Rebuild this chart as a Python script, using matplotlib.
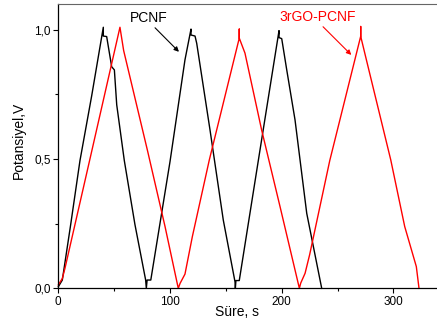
import matplotlib
matplotlib.use("Agg")
import matplotlib.pyplot as plt
from matplotlib.ticker import FixedLocator

plt.rcParams['font.family'] = ['Liberation Sans', 'DejaVu Sans']

# PCNF (black) - time [s], potential [V]
pcnf_t = [0, 3.6, 11.1, 19.4, 29.9, 40.3, 40.3, 43.3, 47.8, 50.2, 52.3, 59.1, 68.6,
          78.2, 78.8, 79.5, 82.8, 100, 113.4, 118.8, 118.8, 122.4, 123.9, 135.8,
          147.7, 158.2, 158.5, 159, 162, 180, 197.6, 197.6, 200, 204.5, 211.9,
          222.4, 235.8]
pcnf_v = [0.006, 0.032, 0.247, 0.494, 0.745, 1.01, 0.976, 0.974, 0.857, 0.845, 0.71,
          0.494, 0.247, 0.032, 0.0, 0.032, 0.032, 0.49, 0.884, 1.003, 0.98, 0.976,
          0.948, 0.613, 0.264, 0.025, 0.0, 0.03, 0.03, 0.52, 0.997, 0.97, 0.966,
          0.845, 0.652, 0.29, 0.0]

# 3rGO-PCNF (red)
rgo_t = [0, 3.6, 6, 28, 55.2, 58.5, 80, 95.5, 107.4, 109, 113.4, 120, 135.2,
         162, 162, 162, 167.1, 182, 198.5, 215.8, 217, 220.9, 225, 243,
         270.7, 270.7, 270.7, 275.8, 297.6, 310.1, 320.5, 322.9]
rgo_v = [0.013, 0.038, 0.078, 0.494, 1.01, 0.92, 0.53, 0.24, 0.0, 0.019, 0.055,
         0.2, 0.497, 0.968, 1.003, 0.968, 0.91, 0.613, 0.316, 0.0, 0.02,
         0.058, 0.13, 0.494, 0.975, 1.013, 0.975, 0.884, 0.497, 0.239, 0.084, 0.0]

x_ticks = [0, 100, 200, 300]
y_ticks = [0.0, 0.5, 1.0]
y_tick_labels = ['0,0', '0,5', '1,0']

fig = plt.figure(figsize=(4.37, 3.25), dpi=100)
ax = fig.add_axes([0.1334, 0.1129, 0.8947, 0.8748])

ax.plot(pcnf_t, pcnf_v, color='black', lw=1.0, clip_on=False)
ax.plot(rgo_t, rgo_v, color='#ff0000', lw=1.0, clip_on=False)

ax.set_xlim(0, 350)
ax.set_ylim(0, 1.1)

ax.set_xticks(x_ticks)
ax.set_yticks(y_ticks)
ax.set_yticklabels(y_tick_labels)
ax.xaxis.set_minor_locator(FixedLocator([50, 150, 250, 350]))
ax.yaxis.set_minor_locator(FixedLocator([0.25, 0.75]))
ax.tick_params(which='major', direction='out', length=3.5, width=0.8,
               labelsize=8.5, pad=2, top=False, right=False)
ax.tick_params(which='minor', direction='out', length=2, width=0.8,
               top=False, right=False)

ax.spines['top'].set_color('0.4')
ax.spines['right'].set_visible(False)
for s in ['left', 'bottom']:
    ax.spines[s].set_linewidth(0.9)

ax.set_xlabel('Süre, s', fontsize=10)
ax.set_ylabel('Potansiyel,V', fontsize=10)
ax.xaxis.set_label_coords(0.457, -0.058)
ax.yaxis.set_label_coords(-0.083, 0.52)

# annotations
ax.text(81.2, 1.046, 'PCNF', fontsize=10, color='black', ha='center', va='center')
ax.annotate('', xy=(108, 0.915), xytext=(86.6, 1.008),
            arrowprops=dict(arrowstyle='-|>', color='black', lw=0.8,
                            mutation_scale=7, shrinkA=0, shrinkB=0))
ax.text(232.5, 1.05, '3rGO-PCNF', fontsize=10, color='#ff0000', ha='center', va='center')
ax.annotate('', xy=(262.3, 0.903), xytext=(237, 1.012),
            arrowprops=dict(arrowstyle='-|>', color='#ff0000', lw=0.8,
                            mutation_scale=7, shrinkA=0, shrinkB=0))

fig.savefig('out.png', dpi=100)
